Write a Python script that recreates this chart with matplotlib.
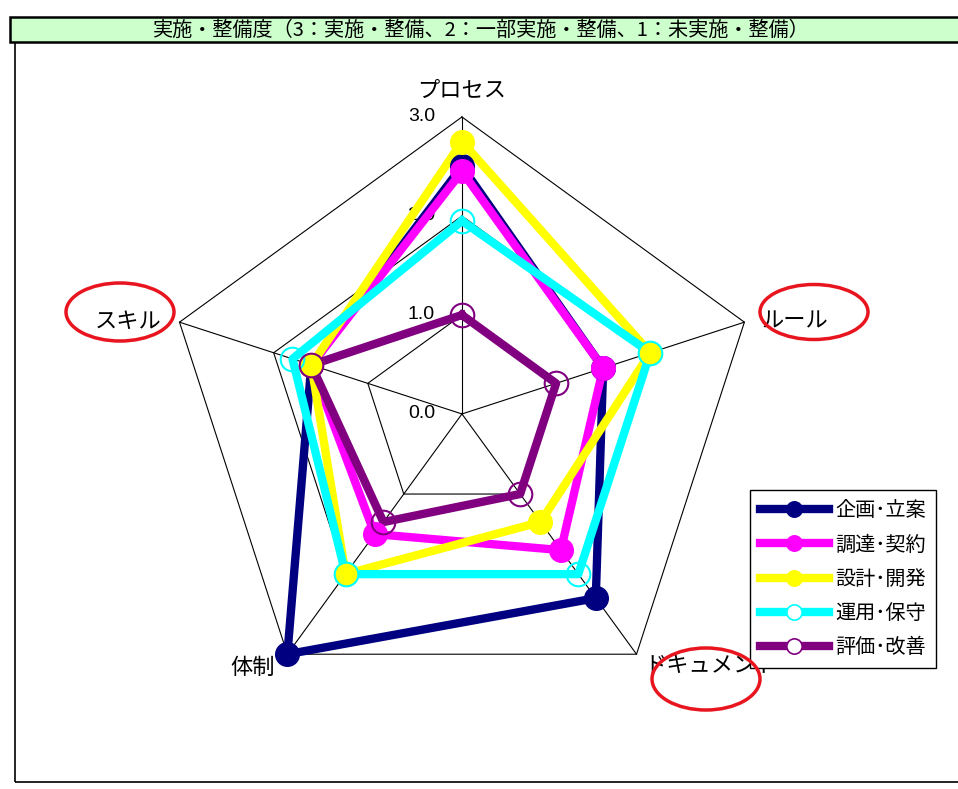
import numpy as np
import matplotlib
matplotlib.use("Agg")
import matplotlib.pyplot as plt
from matplotlib.patches import Rectangle, Ellipse
from matplotlib.lines import Line2D

plt.rcParams['font.family'] = ['Noto Sans CJK JP', 'DejaVu Sans']

title = "実施・整備度（3：実施・整備、2：一部実施・整備、1：未実施・整備）"
categories = ["プロセス", "ルール", "ドキュメント", "体制", "スキル"]
series_names = ["企画･立案", "調達･契約", "設計･開発", "運用･保守", "評価･改善"]
kikaku = [2.5, 1.5, 2.3, 3.0, 1.6]
chotatsu = [2.45, 1.5, 1.7, 1.5, 1.6]
sekkei = [2.75, 2.0, 1.35, 2.0, 1.6]
unyo = [1.95, 2.0, 2.0, 2.0, 1.8]
hyoka = [1.0, 1.0, 1.0, 1.35, 1.6]
ticks = [0.0, 1.0, 2.0, 3.0]

series = [kikaku, chotatsu, sekkei, unyo, hyoka]
colors = ["#000080", "#ff00ff", "#ffff00", "#00ffff", "#800080"]
filled = [True, True, True, False, False]

fig = plt.figure(figsize=(9.58, 7.89), dpi=100)

# title bar and outer frame (figure coords)
fig.add_artist(Rectangle((0.0157, 0.0089), 1.0, 0.9379, transform=fig.transFigure,
                         facecolor="none", edgecolor="black", lw=1.2))
fig.add_artist(Rectangle((0.0104, 0.9468), 1.0, 0.0317, transform=fig.transFigure,
                         facecolor="#ccffcc", edgecolor="black", lw=1.8))
fig.text(0.502, 0.962, title, ha="center", va="center", fontsize=14.5)

ax = fig.add_axes([0.1722, 0.0989, 0.620, 0.7529], projection="polar")
ax.set_theta_offset(np.pi / 2)
ax.set_theta_direction(-1)
ax.set_ylim(0, 3)
ax.axis("off")

angles = np.arange(len(categories)) * 2 * np.pi / len(categories)
closed = np.append(angles, angles[0])

# pentagon grid and spokes
for r in ticks[1:]:
    ax.plot(closed, [r] * len(closed), color="black", lw=0.8, zorder=1, clip_on=False)
for a in angles:
    ax.plot([a, a], [0, 3], color="black", lw=0.8, zorder=1, clip_on=False)

for r in ticks:
    ax.annotate(f"{r:.1f}", xy=(0, r), xytext=(-27, 0), textcoords="offset pixels",
                ha="right", va="center", fontsize=14, family="Liberation Sans", zorder=2)

# category labels
offsets = [(0, 27, "center"), (50, 1, "center"), (8, -11, "left"), (-35, -13, "center"), (-51, 1, "center")]
for a, lab, (dx, dy, ha) in zip(angles, categories, offsets):
    ax.annotate(lab, xy=(a, 3), xytext=(dx, dy), textcoords="offset pixels",
                ha=ha, va="center", fontsize=16, zorder=2)

for vals, c in zip(series, colors):
    ax.plot(closed, np.append(vals, vals[0]), color=c, lw=6, zorder=3,
            solid_joinstyle="round", clip_on=False)
for vals, c, f in zip(series, colors, filled):
    ax.plot(angles, vals, ls="none", marker="o", ms=17,
            markerfacecolor=c if f else "none", markeredgecolor=c,
            markeredgewidth=1 if f else 1.5, zorder=4, clip_on=False)

handles = [Line2D([], [], color=c, lw=6, marker="o", ms=11,
                  markerfacecolor=c if f else "white", markeredgecolor=c,
                  markeredgewidth=1.2)
           for c, f in zip(colors, filled)]
leg = fig.legend(handles, series_names, loc="upper left",
                 bbox_to_anchor=(750 / 958, 1 - 490 / 789), borderaxespad=0,
                 fontsize=14.5, handlelength=3.4, labelspacing=0.66,
                 borderpad=0.5, handletextpad=0.35, fancybox=False,
                 framealpha=1, edgecolor="black")
leg.get_frame().set_linewidth(1.0)
leg.set_zorder(10)

# red highlight ellipses
for cx, cy, w, h in [(120, 312, 108, 58), (814, 312, 108, 55), (706, 679, 108, 62)]:
    fig.add_artist(Ellipse((cx / 958, 1 - cy / 789), w / 958, h / 789,
                           transform=fig.transFigure, facecolor="none",
                           edgecolor="#e8141e", lw=2.5, zorder=11))

fig.savefig("out.png", dpi=100)
